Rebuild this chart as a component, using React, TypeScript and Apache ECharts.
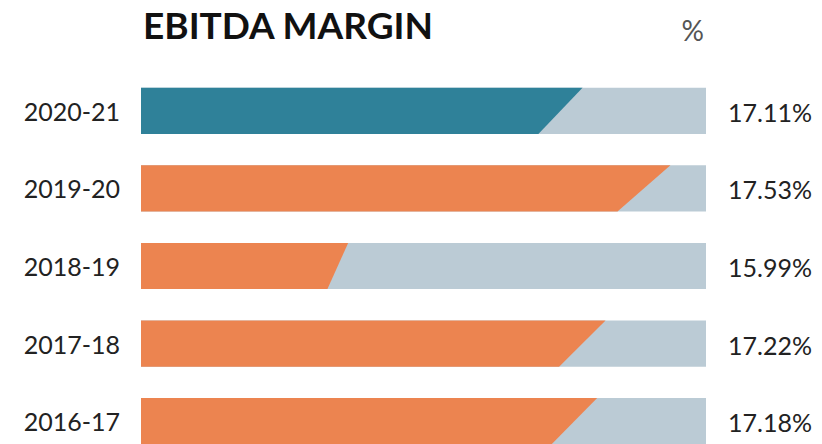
import React, { useEffect, useRef } from "react";
import * as echarts from "echarts";

const categories = ["2020-21", "2019-20", "2018-19", "2017-18", "2016-17"];
const marginValues = [17.11, 17.53, 15.99, 17.22, 17.18];
const highlightCategory = "2020-21";
const titleText = "EBITDA MARGIN";
const unitText = "%";
const axisMin = 15;
const axisMax = 17.7;

const TEAL = "#2f8199";
const ORANGE = "#ec8450";
const TRACK = "#bbcbd5";
const FONT = "Lato, 'Open Sans', sans-serif";

export default function App() {
  const ref = useRef<HTMLDivElement>(null);
  useEffect(() => {
    document.body.style.margin = "0";
    if (!ref.current) return;
    const chart = echarts.init(ref.current, undefined, { renderer: "svg" });
    const data = marginValues.map((v, i) => [v, i]);
    chart.setOption({
      animation: false,
      backgroundColor: "#ffffff",
      title: [
        {
          text: titleText,
          left: 143,
          top: 6,
          padding: 0,
          textStyle: { fontFamily: FONT, fontSize: 37, fontWeight: "bold", color: "#111" },
        },
        {
          text: unitText,
          right: 118,
          top: 16,
          padding: 0,
          textStyle: { fontFamily: FONT, fontSize: 28, fontWeight: "normal", color: "#555" },
        },
      ],
      grid: { left: 141, right: 116, top: 72, height: 388, containLabel: false },
      xAxis: { type: "value", min: axisMin, max: axisMax, show: false },
      yAxis: {
        type: "category",
        data: categories,
        inverse: true,
        axisLine: { show: false },
        axisTick: { show: false },
        splitLine: { show: false },
        axisLabel: { fontFamily: FONT, fontSize: 25, color: "#222", margin: 21 },
      },
      series: [
        {
          type: "custom",
          data,
          encode: { x: 0, y: 1 },
          clip: false,
          renderItem: (params: any, api: any) => {
            const v = api.value(0);
            const ci = api.value(1);
            const start = api.coord([axisMin, ci]);
            const end = api.coord([v, ci]);
            const full = api.coord([axisMax, ci]);
            const h = api.size([0, 1])[1] * 0.595;
            const yT = start[1] - h / 2;
            const yB = start[1] + h / 2;
            const len = end[0] - start[0];
            const fill = categories[ci] === highlightCategory ? TEAL : ORANGE;
            return {
              type: "group",
              children: [
                {
                  type: "rect",
                  shape: { x: start[0], y: yT, width: full[0] - start[0], height: h },
                  style: { fill: TRACK },
                },
                {
                  type: "polygon",
                  shape: {
                    points: [
                      [start[0], yT],
                      [end[0], yT],
                      [start[0] + 0.9 * len, yB],
                      [start[0], yB],
                    ],
                  },
                  style: { fill },
                },
                {
                  type: "text",
                  x: full[0] + 22,
                  y: start[1] + 1,
                  style: {
                    text: v.toFixed(2) + "%",
                    fill: "#222",
                    font: `25px ${FONT}`,
                    align: "left",
                    verticalAlign: "middle",
                  },
                },
              ],
            };
          },
        },
      ],
    });
    return () => chart.dispose();
  }, []);
  return (
    <div style={{ width: 822, height: 444, overflow: "hidden", position: "relative" }}>
      <div ref={ref} style={{ width: 822, height: 480 }} />
    </div>
  );
}
